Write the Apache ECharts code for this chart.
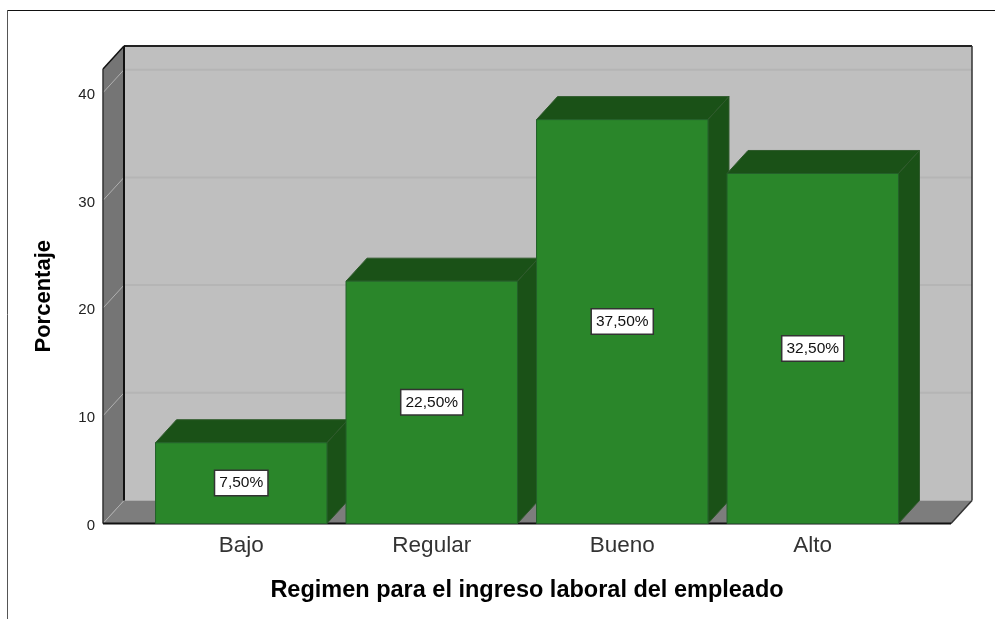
<!DOCTYPE html>
<html>
<head>
<meta charset="utf-8">
<style>
  html, body { margin: 0; padding: 0; background: #fff; }
  #bar { width: 995px; height: 619px; }
</style>
<script src="https://cdn.jsdelivr.net/npm/echarts@6/dist/echarts.min.js"></script>
</head>
<body>
<div id="bar"></div>
<script>
const categories = ['Bajo', 'Regular', 'Bueno', 'Alto']
const porcentajes = [7.5, 22.5, 37.5, 32.5]
const yTicks = [0, 10, 20, 30, 40]

const FONT = '"Liberation Sans", Arial, sans-serif'
// profundidad del efecto 3D, en pixeles
const depthX = 21
const depthY = 23
const sidePad = 43

function poly (points, fill, stroke, lineWidth) {
  return {
    type: 'polygon',
    shape: { points },
    style: { fill, stroke: stroke || null, lineWidth: lineWidth || 0 }
  }
}

function line (x1, y1, x2, y2, stroke, lineWidth) {
  return {
    type: 'line',
    shape: { x1, y1, x2, y2 },
    style: { stroke, lineWidth: lineWidth || 1 }
  }
}

// paredes, piso y lineas de cuadricula
function renderWalls (params, api) {
  const cs = params.coordSys
  const left = cs.x - sidePad
  const right = cs.x + cs.width + sidePad
  const y0 = api.coord([0, 0])[1]
  const top = cs.y
  const children = [
    poly([[left + depthX, top - depthY], [right + depthX, top - depthY], [right + depthX, y0 - depthY], [left + depthX, y0 - depthY]], '#bfbfbf'),
    poly([[left, top], [left + depthX, top - depthY], [left + depthX, y0 - depthY], [left, y0]], '#757575'),
    poly([[left, y0], [right, y0], [right + depthX, y0 - depthY], [left + depthX, y0 - depthY]], '#7d7d7d')
  ]
  yTicks.forEach(function (t) {
    const y = api.coord([0, t])[1]
    children.push(line(left, y, left + depthX, y - depthY, '#b0b0b0', 1))
    if (t > 0) children.push(line(left + depthX, y - depthY, right + depthX, y - depthY, '#b5b5b5', 2))
  })
  children.push(
    line(left + depthX, top - depthY, right + depthX, top - depthY, '#222', 2),
    line(right + depthX, top - depthY, right + depthX, y0 - depthY, '#333', 1.5),
    line(left + depthX, top - depthY, left + depthX, y0 - depthY, '#111', 2),
    line(left, top, left + depthX, top - depthY, '#111', 1.5),
    line(left, top, left, y0, '#333', 1.5),
    line(right, y0, right + depthX, y0 - depthY, '#333', 1.5),
    line(left, y0, right, y0, '#111', 2)
  )
  return { type: 'group', children }
}

function renderBar (params, api) {
  const val = api.value(1)
  const p = api.coord([api.value(0), val])
  const base = api.coord([api.value(0), 0])
  const w = api.size([1, 0])[0] * 0.9
  const x1 = p[0] - w / 2
  const x2 = p[0] + w / 2
  const yt = p[1]
  const yb = base[1]
  return {
    type: 'group',
    children: [
      poly([[x1, yt], [x1 + depthX, yt - depthY], [x2 + depthX, yt - depthY], [x2, yt]], '#1a5117', '#2f5a2c', 1),
      poly([[x2, yt], [x2 + depthX, yt - depthY], [x2 + depthX, yb - depthY], [x2, yb]], '#1a5117', '#2f5a2c', 1),
      {
        type: 'rect',
        shape: { x: x1, y: yt, width: w, height: yb - yt },
        style: { fill: '#2a862a', stroke: '#23602a', lineWidth: 1 }
      },
      {
        type: 'text',
        style: {
          x: p[0],
          y: (yt + yb) / 2,
          text: val.toFixed(2).replace('.', ',') + '%',
          align: 'center',
          verticalAlign: 'middle',
          font: '15.5px ' + FONT,
          fill: '#111',
          backgroundColor: '#fff',
          borderColor: '#333',
          borderWidth: 1.5,
          padding: [4, 4, 4, 4]
        }
      }
    ]
  }
}

const chart = echarts.init(document.getElementById('bar'), null, { renderer: 'canvas' })
chart.setOption({
  animation: false,
  backgroundColor: '#fff',
  grid: { left: 146, top: 69, width: 762, height: 454.5 },
  xAxis: {
    type: 'category',
    data: categories,
    axisLine: { show: false },
    axisTick: { show: false },
    axisLabel: { color: '#333', fontSize: 22.5, fontFamily: FONT, margin: 11 },
    name: 'Regimen para el ingreso laboral del empleado',
    nameLocation: 'middle',
    nameGap: 55,
    nameTextStyle: { color: '#000', fontSize: 23.5, fontWeight: 'bold', fontFamily: FONT }
  },
  yAxis: {
    type: 'value',
    min: 0,
    max: 42.2,
    interval: 10,
    offset: 43,
    axisLine: { show: false },
    axisTick: { show: false },
    splitLine: { show: false },
    axisLabel: {
      margin: 8,
      showMaxLabel: false,
      formatter: '{t|{value}}',
      rich: { t: { color: '#222', fontSize: 15, fontFamily: FONT, padding: [4, 0, 0, 0] } }
    },
    name: 'Porcentaje',
    nameLocation: 'middle',
    nameGap: 48,
    nameTextStyle: { color: '#000', fontSize: 22, fontWeight: 'bold', fontFamily: FONT }
  },
  graphic: [
    { type: 'line', shape: { x1: 7, y1: 10.5, x2: 995, y2: 10.5 }, style: { stroke: '#111', lineWidth: 1 } },
    { type: 'line', shape: { x1: 7.5, y1: 10, x2: 7.5, y2: 619 }, style: { stroke: '#555', lineWidth: 1 } }
  ],
  series: [
    { type: 'custom', renderItem: renderWalls, data: [[0, 0]], clip: false, silent: true, z: 1 },
    {
      type: 'custom',
      renderItem: renderBar,
      data: porcentajes.map(function (v, i) { return [i, v] }),
      encode: { x: 0, y: 1 },
      clip: false,
      z: 2
    }
  ]
})
</script>
</body>
</html>
